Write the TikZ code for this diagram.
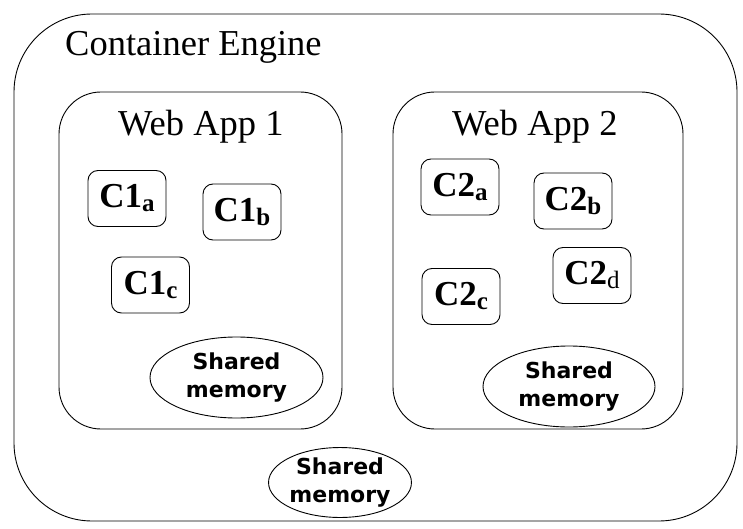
\documentclass[tikz,border=0pt]{standalone}
\usepackage{fontspec}
\setmainfont{Liberation Serif}
\newfontfamily\memfont{DejaVu Sans}
\usetikzlibrary{shapes.geometric}
\newcommand{\cbox}[3]{{\fontsize{35}{35}\selectfont\bfseries #1}\raisebox{-4pt}{\fontsize{25}{25}\selectfont #3#2}}
\tikzset{
  frame/.style={draw=black, line width=0.9pt},
  cnt/.style={draw=black, line width=0.9pt, rounded corners=10pt, minimum width=78pt, minimum height=56pt, inner sep=0pt},
  mem/.style={draw=black, line width=0.9pt, ellipse, inner sep=0pt, align=center, font=\memfont\bfseries\fontsize{22}{28}\selectfont},
  title/.style={anchor=base west, inner sep=0pt, font=\fontsize{36.5}{36.5}\selectfont}
}
\begin{document}
\begin{tikzpicture}[x=1pt,y=-1pt]
\useasboundingbox (0,0) rectangle (743,529);
% outer container
\draw[frame, rounded corners=78pt] (14,14) rectangle (737,521);
\node[title] (ce) at (65,56) {Container Engine};
% web apps
\draw[frame, rounded corners=42pt] (59,92) rectangle (342,429);
\draw[frame, rounded corners=42pt] (393,92) rectangle (683,429);
\node[title] (wa1) at (118,136) {Web App 1};
\node[title] (wa2) at (452,136) {Web App 2};
% containers
\node[cnt] (c1a) at (127,198.5) {\cbox{C1}{a}{\bfseries}};
\node[cnt] (c1b) at (242,212) {\cbox{C1}{b}{\bfseries}};
\node[cnt] (c1c) at (150.5,285) {\cbox{C1}{c}{\bfseries}};
\node[cnt] (c2a) at (460,187) {\cbox{C2}{a}{\bfseries}};
\node[cnt] (c2b) at (573,201) {\cbox{C2}{b}{\bfseries}};
\node[cnt] (c2c) at (461,296.5) {\cbox{C2}{c}{\bfseries}};
\node[cnt] (c2d) at (592,275.5) {\cbox{C2}{d}{}};
% shared memories
\node[mem, minimum width=173pt, minimum height=81pt] (m1) at (236.5,377.5) {Shared\\memory};
\node[mem, minimum width=172pt, minimum height=81pt] (m2) at (569,386.5) {Shared\\memory};
\node[mem, minimum width=136pt, minimum height=69pt] (m3) at (340,482.5) {Shared\\memory};
\end{tikzpicture}
\end{document}
